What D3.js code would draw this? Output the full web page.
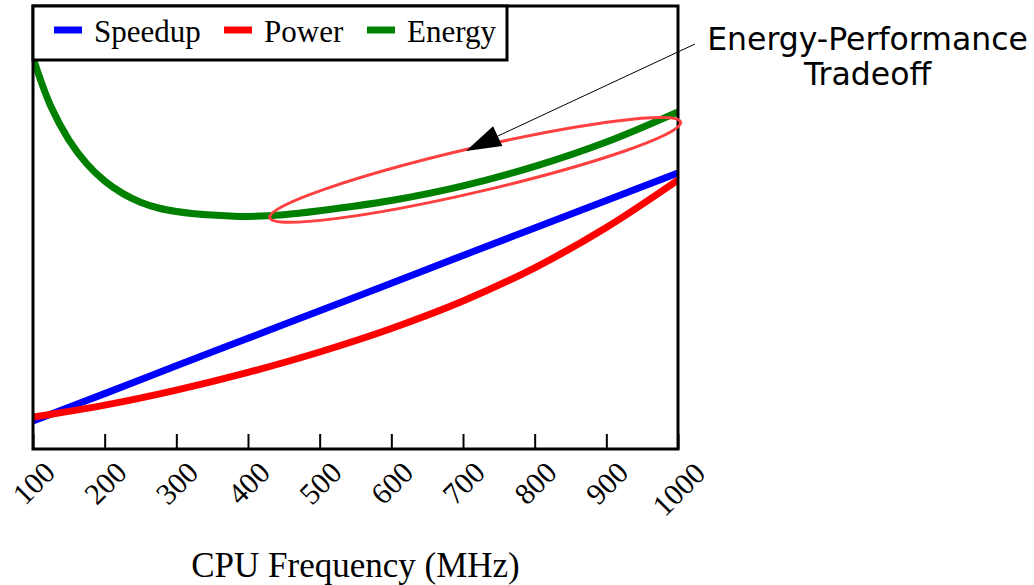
<!DOCTYPE html>
<html>
<head>
<meta charset="utf-8">
<script src="https://cdn.jsdelivr.net/npm/d3@7"></script>
<style>
  html, body { margin: 0; padding: 0; background: #fff; }
  svg { display: block; }
</style>
</head>
<body>
<svg id="chart" width="1034" height="585"></svg>
<script>
// ---- data ----
const freqs = [100, 200, 300, 400, 500, 600, 700, 800, 900, 1000];
const speedup = [6.3, 12.5, 18.8, 25.0, 31.2, 37.4, 43.7, 49.9, 56.1, 62.3];
const power = [7.2, 9.9, 13.3, 17.3, 21.9, 27.2, 33.4, 40.9, 50.0, 60.7];
const energyFreqs = [100, 125, 150, 175, 200, 225, 250, 275, 300, 325, 350, 375, 400, 450, 500, 600, 700, 800, 900, 1000];
const energy = [88.3, 77.3, 69.8, 64.4, 60.5, 57.7, 55.7, 54.4, 53.6, 53.1, 52.8, 52.6, 52.5, 52.9, 53.8, 56.1, 59.4, 63.8, 69.3, 76.1];
const tickLabels = ["100", "200", "300", "400", "500", "600", "700", "800", "900", "1000"];
const seriesNames = ["Speedup", "Power", "Energy"];
const seriesColors = ["#0000ff", "#ff0000", "#008000"];
const annotationLines = ["Energy-Performance", "Tradeoff"];

(function () {
// ---- layout ----
const svg = d3.select("#chart");
const mLeft = 33, mRight = 678, mTop = 6, mBottom = 449;
const x = d3.scaleLinear().domain([100, 1000]).range([mLeft, mRight]);
const y = d3.scaleLinear().domain([0, 100]).range([mBottom, mTop]);
const serif = "'Liberation Serif', 'Times New Roman', serif";
const sans = "'DejaVu Sans', sans-serif";

const line = d3.line().x(d => x(d[0])).y(d => y(d[1])).curve(d3.curveCatmullRom.alpha(0.5));

const series = [
  freqs.map((f, i) => [f, speedup[i]]),
  freqs.map((f, i) => [f, power[i]]),
  energyFreqs.map((f, i) => [f, energy[i]])
];

svg.append("defs").append("clipPath").attr("id", "clip")
  .append("rect").attr("x", mLeft).attr("y", mTop - 4).attr("width", mRight - mLeft).attr("height", mBottom - mTop + 4);

const g = svg.append("g").attr("clip-path", "url(#clip)");
series.forEach((s, i) => {
  g.append("path").datum(s)
    .attr("d", line)
    .attr("fill", "none")
    .attr("stroke", seriesColors[i])
    .attr("stroke-width", 7);
});

// ---- axis ----
const axis = d3.axisBottom(x)
  .tickValues(freqs)
  .tickFormat((d, i) => tickLabels[i])
  .tickSizeInner(-15)
  .tickSizeOuter(0);
const ax = svg.append("g").attr("transform", `translate(0,${mBottom})`).call(axis);
ax.select(".domain").remove();
ax.selectAll(".tick line").attr("stroke", "#000").attr("stroke-width", 2);
ax.selectAll(".tick text")
  .attr("y", null).attr("dy", null)
  .attr("transform", (d, i) => `translate(0,${34 + (tickLabels[i].length - 3) * 6}) rotate(-45)`)
  .attr("text-anchor", "middle")
  .attr("dominant-baseline", "central")
  .attr("font-family", serif)
  .attr("font-size", 30)
  .attr("fill", "#000");

svg.append("text")
  .attr("x", (mLeft + mRight) / 2)
  .attr("y", 577)
  .attr("text-anchor", "middle")
  .attr("font-family", serif)
  .attr("font-size", 35)
  .attr("fill", "#000")
  .text("CPU Frequency (MHz)");

// ---- frame ----
svg.append("rect")
  .attr("x", mLeft).attr("y", mTop)
  .attr("width", mRight - mLeft).attr("height", mBottom - mTop)
  .attr("fill", "none").attr("stroke", "#000").attr("stroke-width", 3);

// ---- legend ----
const leg = svg.append("g");
leg.append("rect")
  .attr("x", mLeft).attr("y", mTop)
  .attr("width", 474).attr("height", 54)
  .attr("fill", "#fff").attr("stroke", "#000").attr("stroke-width", 3);
const swatchX = [54, 224, 367];
seriesNames.forEach((n, i) => {
  leg.append("line")
    .attr("x1", swatchX[i]).attr("x2", swatchX[i] + 28)
    .attr("y1", 30).attr("y2", 30)
    .attr("stroke", seriesColors[i]).attr("stroke-width", 7);
  leg.append("text")
    .attr("x", swatchX[i] + 40).attr("y", 42)
    .attr("font-family", serif).attr("font-size", 31)
    .attr("fill", "#000")
    .text(n);
});

// ---- annotation: ellipse ----
const ecx = x(717), ecy = y(63);
svg.append("ellipse")
  .attr("cx", 0).attr("cy", 0)
  .attr("rx", 211).attr("ry", 22)
  .attr("transform", `translate(${ecx},${ecy}) rotate(-13.1)`)
  .attr("fill", "none")
  .attr("stroke", "#ff4040")
  .attr("stroke-width", 3);

// ---- annotation: arrow ----
const tail = [695, 44];
const tip = [x(700) + 3, ecy - 19];
const dx = tip[0] - tail[0], dy = tip[1] - tail[1];
const len = Math.hypot(dx, dy);
const ux = dx / len, uy = dy / len;
const headLen = 35, headHalf = 11;
const bx = tip[0] - ux * headLen, by = tip[1] - uy * headLen;
svg.append("line")
  .attr("x1", tail[0]).attr("y1", tail[1])
  .attr("x2", bx).attr("y2", by)
  .attr("stroke", "#000").attr("stroke-width", 1);
svg.append("polygon")
  .attr("points", [
    tip,
    [bx - uy * headHalf, by + ux * headHalf],
    [bx + uy * headHalf, by - ux * headHalf]
  ].map(p => p.join(",")).join(" "))
  .attr("fill", "#000");

annotationLines.forEach((t, i) => {
  svg.append("text")
    .attr("x", 867.5).attr("y", 50 + i * 35)
    .attr("text-anchor", "middle")
    .attr("font-family", sans)
    .attr("font-size", 31.5)
    .attr("fill", "#000")
    .text(t);
});
})();
</script>
</body>
</html>
